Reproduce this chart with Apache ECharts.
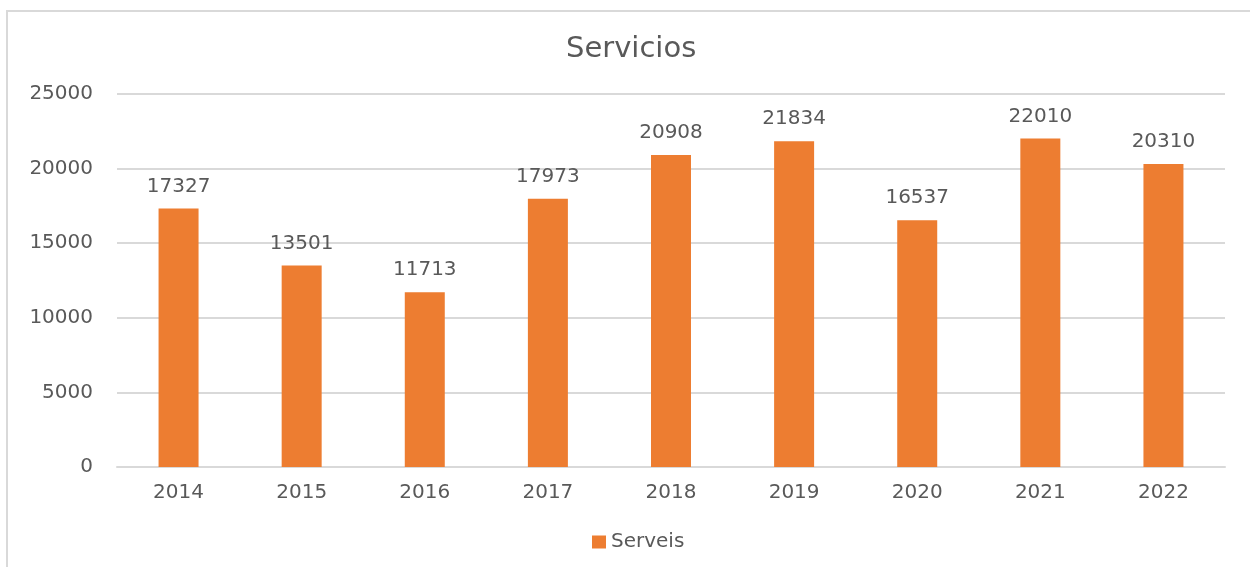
<!DOCTYPE html>
<html>
<head>
<meta charset="utf-8">
<script src="https://cdn.jsdelivr.net/npm/echarts@6/dist/echarts.min.js"></script>
<style>html,body{margin:0;padding:0;background:#fff;}#c{width:1250px;height:567px;}</style>
</head>
<body>
<div id="c"></div>
<script>
const categories = ['2014','2015','2016','2017','2018','2019','2020','2021','2022'];
const serveis = [17327, 13501, 11713, 17973, 20908, 21834, 16537, 22010, 20310];
const yTicks = [0, 5000, 10000, 15000, 20000, 25000];

const FONT = 'DejaVu Sans';
const chart = echarts.init(document.getElementById('c'), null, {renderer: 'canvas'});
chart.setOption({
  animation: false,
  backgroundColor: '#ffffff',
  graphic: [{
    type: 'rect', silent: true, z: -1,
    shape: {x: 7, y: 11, width: 1300, height: 600},
    style: {fill: 'none', stroke: '#d9d9d9', lineWidth: 2}
  }],
  title: {
    text: 'Servicios', left: 561, top: 30,
    textStyle: {fontFamily: FONT, fontSize: 29, fontWeight: 'normal', color: '#595959'}
  },
  legend: {
    data: ['Serveis'], left: 587, top: 527,
    icon: 'rect', itemWidth: 14, itemHeight: 13, itemGap: 8,
    textStyle: {fontFamily: FONT, fontSize: 20, color: '#595959'}
  },
  grid: {left: 117, right: 25, top: 94, bottom: 100},
  xAxis: {
    type: 'category', data: categories,
    axisLine: {lineStyle: {color: '#d9d9d9', width: 2}},
    axisTick: {show: false},
    axisLabel: {fontFamily: FONT, fontSize: 20, color: '#595959', margin: 16}
  },
  yAxis: {
    type: 'value', min: yTicks[0], max: yTicks[yTicks.length - 1], interval: 5000,
    axisLine: {show: false}, axisTick: {show: false},
    splitLine: {lineStyle: {color: '#d9d9d9', width: 2}},
    axisLabel: {fontFamily: FONT, fontSize: 20, color: '#595959', margin: 24, formatter: function (v) { return String(v); }}
  },
  series: [{
    name: 'Serveis', type: 'bar', data: serveis, barWidth: 40,
    itemStyle: {color: '#ED7D31'},
    label: {show: true, position: 'top', distance: 12, fontFamily: FONT, fontSize: 20, color: '#595959'}
  }]
});
</script>
</body>
</html>
